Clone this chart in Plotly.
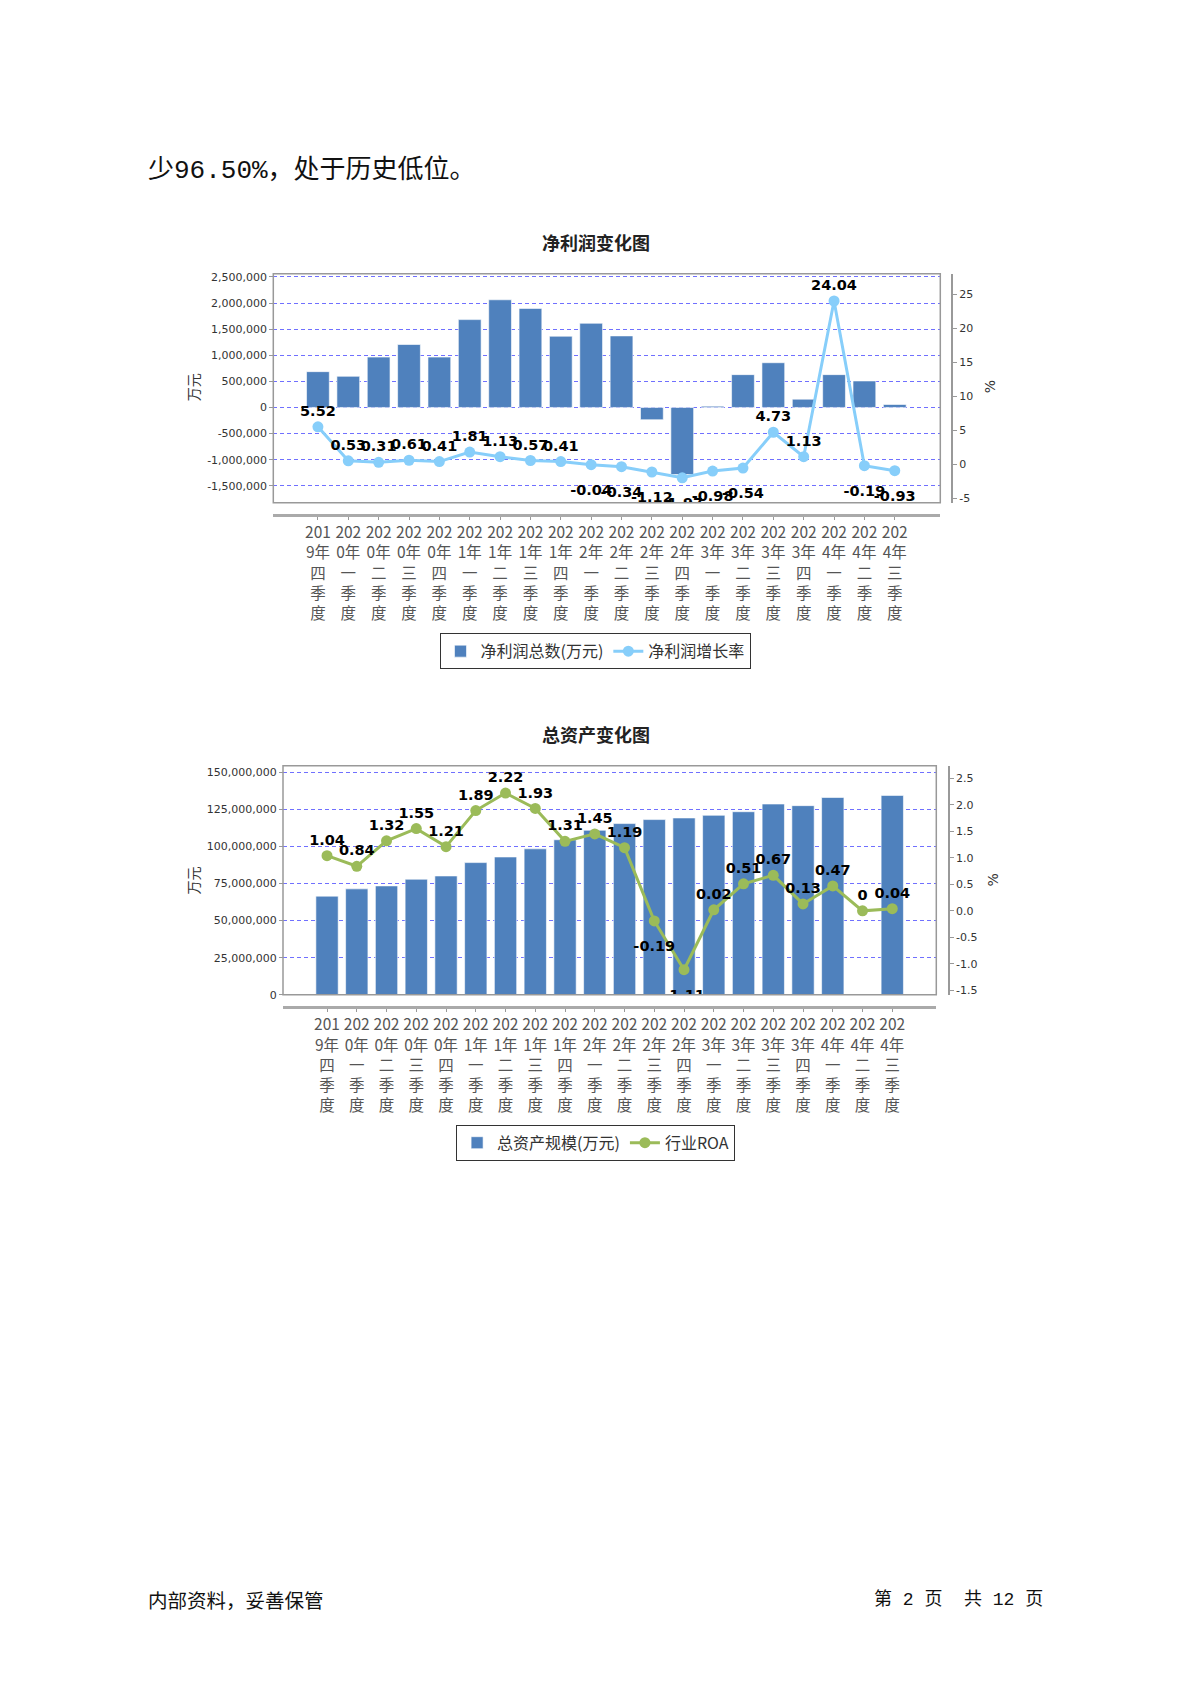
import plotly.graph_objects as go

# ---------------- data ----------------
quarters = ["2019年四季度", "2020年一季度", "2020年二季度", "2020年三季度", "2020年四季度",
            "2021年一季度", "2021年二季度", "2021年三季度", "2021年四季度",
            "2022年一季度", "2022年二季度", "2022年三季度", "2022年四季度",
            "2023年一季度", "2023年二季度", "2023年三季度", "2023年四季度",
            "2024年一季度", "2024年二季度", "2024年三季度"]

net_profit = [686000, 597000, 965000, 1206000, 965000, 1683000, 2063000, 1898000, 1365000,
              1613000, 1371000, -235000, -1285000, 25000, 629000, 857000, 159000, 629000,
              508000, 57000]
profit_growth = [5.52, 0.53, 0.31, 0.61, 0.41, 1.81, 1.13, 0.57, 0.41, -0.04, -0.34, -1.12,
                 -1.97, -0.98, -0.54, 4.73, 1.13, 24.04, -0.19, -0.93]

total_assets = [66500000, 71400000, 73400000, 77900000, 80100000, 89100000, 92900000,
                98400000, 104500000, 110900000, 115400000, 118100000, 119200000, 121000000,
                123400000, 128600000, 127500000, 133000000, None, 134400000]
industry_roa = [1.04, 0.84, 1.32, 1.55, 1.21, 1.89, 2.22, 1.93, 1.31, 1.45, 1.19, -0.19,
                -1.11, 0.02, 0.51, 0.67, 0.13, 0.47, 0, 0.04]

profit_ticks = [-1500000, -1000000, -500000, 0, 500000, 1000000, 1500000, 2000000, 2500000]
growth_ticks = [-5, 0, 5, 10, 15, 20, 25]
asset_ticks = [0, 25000000, 50000000, 75000000, 100000000, 125000000, 150000000]
roa_ticks = [-1.5, -1.0, -0.5, 0.0, 0.5, 1.0, 1.5, 2.0, 2.5]

# ---------------- helpers ----------------
W, H = 1191, 1684


def px_x(v):
    return v / W


def px_y(v):
    return 1 - v / H


def wrap(q):
    return "<br>".join([q[:3], q[3:5], q[5], q[6], q[7]])


def fmt_label(v):
    return f"{v:g}"


idx = list(range(len(quarters)))
xlabels = [wrap(q) for q in quarters]

BAR_COLOR = "#4F81BD"
CJK = "Noto Sans CJK SC"
NUMF = "DejaVu Sans"
MONO_CJK = "Liberation Mono, Noto Sans CJK SC"

fig = go.Figure()


def label_trace(values, xa, ya):
    return go.Scatter(x=idx, y=values, xaxis=xa, yaxis=ya, mode="markers+text",
                      text=[fmt_label(v) for v in values],
                      textposition=["top center" if v >= 0 else "bottom center" for v in values],
                      marker=dict(color="rgba(0,0,0,0)", opacity=0, line=dict(width=0),
                                  size=[10 if v >= 0 else 29 for v in values]),
                      textfont=dict(family=NUMF, size=14.5, color="#000", weight="bold"),
                      showlegend=False, hoverinfo="skip", cliponaxis=True)


# ---------------- chart 1 ----------------
fig.add_trace(go.Bar(x=idx, y=net_profit, name="净利润总数(万元)", xaxis="x", yaxis="y",
                     marker=dict(color=BAR_COLOR, line=dict(color="rgba(255,255,255,0.6)", width=1)),
                     legend="legend", hoverinfo="skip"))
fig.add_trace(go.Scatter(x=idx, y=profit_growth, name="净利润增长率", xaxis="x", yaxis="y2",
                         mode="lines+markers", line=dict(color="#87CEFA", width=3),
                         marker=dict(color="#87CEFA", size=11), legend="legend"))
fig.add_trace(label_trace(profit_growth, "x", "y2"))

# ---------------- chart 2 ----------------
fig.add_trace(go.Bar(x=idx, y=total_assets, name="总资产规模(万元)", xaxis="x2", yaxis="y3",
                     marker=dict(color=BAR_COLOR, line=dict(color="rgba(255,255,255,0.6)", width=1)),
                     legend="legend2", hoverinfo="skip"))
fig.add_trace(go.Scatter(x=idx, y=industry_roa, name="行业ROA", xaxis="x2", yaxis="y4",
                         mode="lines+markers", line=dict(color="#9BBB59", width=3),
                         marker=dict(color="#9BBB59", size=11), legend="legend2"))
fig.add_trace(label_trace(industry_roa, "x2", "y4"))

xfont = dict(family=CJK, size=15.5, color="#555")
yfont = dict(family=NUMF, size=11, color="#333")

common_x = dict(showline=True, linecolor="#AAAAAA", linewidth=2.5, ticks="outside", ticklen=3,
                tickcolor="#999", showgrid=False, zeroline=False, tickfont=xfont, tickangle=0,
                tickvals=idx, ticktext=xlabels, fixedrange=True, ticklabelstandoff=0)
grid_y = dict(showgrid=True, gridcolor="#7070FF", griddash="4px,3px", gridwidth=1, zeroline=False,
              showline=False, ticks="outside", ticklen=4, tickcolor="#999", tickfont=yfont)
right_y = dict(showgrid=False, zeroline=False, showline=True, linecolor="#999", linewidth=1.5,
               ticks="outside", ticklen=4, tickcolor="#999", tickfont=yfont, side="right")
legend_common = dict(orientation="h", xanchor="center", yanchor="top", bordercolor="#333",
                     borderwidth=1, bgcolor="white", itemwidth=30,
                     font=dict(family=CJK, size=16, color="#333"))

fig.update_layout(
    width=W, height=H, margin=dict(l=0, r=0, t=0, b=0),
    paper_bgcolor="white", plot_bgcolor="white", bargap=0.25,
    xaxis=dict(domain=[px_x(273.3), px_x(940.3)], range=[-1.47, 20.5], anchor="free",
               position=px_y(515), **common_x),
    yaxis=dict(domain=[px_y(502.7), px_y(272.3)], range=[-1825000, 2563000], anchor="free",
               position=px_x(273.3), tickvals=profit_ticks,
               ticktext=[f"{v:,}" for v in profit_ticks], **grid_y),
    yaxis2=dict(overlaying="y", anchor="free", position=px_x(952.3), range=[-5.64, 28.06],
                tickvals=growth_ticks, ticktext=[str(v) for v in growth_ticks], **right_y),
    xaxis2=dict(domain=[px_x(283), px_x(936.3)], range=[-1.48, 20.48], anchor="free",
                position=px_y(1010), **common_x),
    yaxis3=dict(domain=[px_y(997.7), px_y(767.3)], range=[0, 154400000], anchor="free",
                position=px_x(283), tickvals=asset_ticks,
                ticktext=[f"{v:,}" for v in asset_ticks], **grid_y),
    yaxis4=dict(overlaying="y3", anchor="free", position=px_x(949), range=[-1.582, 2.735],
                tickvals=roa_ticks, ticktext=[f"{v:.1f}" for v in roa_ticks], **right_y),
    legend=dict(x=px_x(595), y=px_y(634), **legend_common),
    legend2=dict(x=px_x(595.6), y=px_y(1128.5), **legend_common),
)

# plot frames
for xr, yr in (("x domain", "y domain"), ("x2 domain", "y3 domain")):
    fig.add_shape(type="rect", xref=xr, yref=yr, x0=0, x1=1, y0=0, y1=1,
                  line=dict(color="#999", width=1.5), fillcolor="rgba(0,0,0,0)", layer="above")

# text annotations
ann = [
    dict(text="<b>净利润变化图</b>", x=px_x(596), y=px_y(240), size=18, family=CJK, color="#222", angle=0),
    dict(text="<b>总资产变化图</b>", x=px_x(596), y=px_y(735.5), size=18, family=CJK, color="#222", angle=0),
    dict(text="万元", x=px_x(193), y=px_y(386.6), size=14, family=CJK, color="#333", angle=-90),
    dict(text="%", x=px_x(990), y=px_y(386.6), size=14, family=NUMF, color="#333", angle=-90),
    dict(text="万元", x=px_x(193), y=px_y(882.8), size=14, family=CJK, color="#333", angle=-90),
    dict(text="%", x=px_x(993), y=px_y(882.8), size=14, family=NUMF, color="#333", angle=-90),
]
for a in ann:
    fig.add_annotation(text=a["text"], x=a["x"], y=a["y"], xref="paper", yref="paper",
                       showarrow=False, textangle=a["angle"], xanchor="center", yanchor="middle",
                       font=dict(family=a["family"], size=a["size"], color=a["color"]))

fig.add_annotation(text="少96.50%，处于历史低位。", x=px_x(146), y=px_y(169), xref="paper", yref="paper",
                   showarrow=False, xanchor="left", yanchor="middle",
                   font=dict(family=MONO_CJK, size=26, color="#111"))
fig.add_annotation(text="内部资料，妥善保管", x=px_x(146), y=px_y(1606), xref="paper", yref="paper",
                   showarrow=False, xanchor="left", yanchor="middle",
                   font=dict(family=CJK, size=19.5, color="#111"))
fig.add_annotation(text="第 2 页  共 12 页", x=px_x(1045), y=px_y(1606), xref="paper", yref="paper",
                   showarrow=False, xanchor="right", yanchor="middle",
                   font=dict(family=MONO_CJK, size=18, color="#111"))

fig.write_html("out.html", config={"displayModeBar": False},
               post_script="document.body.style.margin='0';document.body.style.overflow='hidden';")
